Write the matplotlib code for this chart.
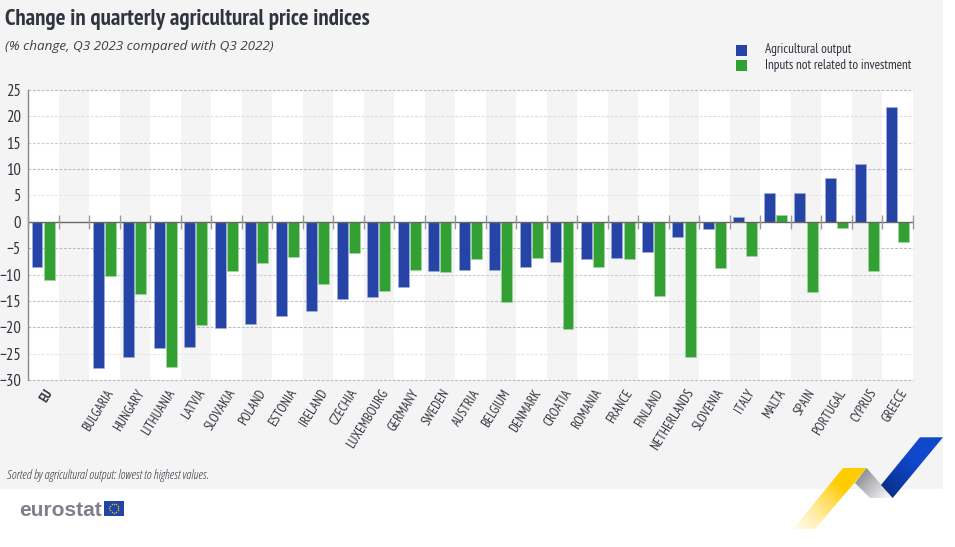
import numpy as np
import matplotlib
matplotlib.use("Agg")
import matplotlib.pyplot as plt
from matplotlib.font_manager import FontProperties as FP
from matplotlib.patches import Polygon, Rectangle

countries = ["EU", "", "BULGARIA", "HUNGARY", "LITHUANIA", "LATVIA", "SLOVAKIA", "POLAND", "ESTONIA",
             "IRELAND", "CZECHIA", "LUXEMBOURG", "GERMANY", "SWEDEN", "AUSTRIA", "BELGIUM", "DENMARK",
             "CROATIA", "ROMANIA", "FRANCE", "FINLAND", "NETHERLANDS", "SLOVENIA", "ITALY", "MALTA",
             "SPAIN", "PORTUGAL", "CYPRUS", "GREECE"]
output_vals = [-8.6, None, -27.8, -25.6, -24.0, -23.7, -20.2, -19.4, -17.9, -17.0, -14.7, -14.3, -12.3, -9.4,
               -9.2, -9.1, -8.6, -7.7, -7.1, -6.9, -5.8, -2.9, -1.3, 1.0, 5.4, 5.4, 8.3, 11.0, 21.8]
input_vals = [-11.0, None, -10.2, -13.6, -27.5, -19.5, -9.3, -7.9, -6.6, -11.8, -6.0, -13.2, -9.2, -9.6,
              -7.1, -15.2, -6.8, -20.3, -8.5, -7.0, -14.1, -25.6, -8.7, -6.5, 1.3, -13.3, -1.1, -9.3, -3.8]
y_ticks = [25, 20, 15, 10, 5, 0, -5, -10, -15, -20, -25, -30]

def narrow(size, weight="normal"):
    return FP(family=["PT Sans Narrow", "Open Sans"], weight=weight, size=size)

TXT = "#30343f"
BLUE, GREEN = "#2644a6", "#33a033"
W, H = 955, 547

fig = plt.figure(figsize=(W / 100, H / 100), dpi=100, facecolor="white")
bg = fig.add_axes([0, 0, 1, 1], zorder=0)
bg.set_xlim(0, W); bg.set_ylim(H, 0); bg.axis("off")
bg.add_patch(Rectangle((0, 0), 943, 489, fc="#f4f4f4", ec="none"))

ax = fig.add_axes([28 / W, (H - 380) / H, 885 / W, 290 / H], zorder=1)
ax.set_xlim(-0.5, len(countries) - 0.5)
ax.set_ylim(-30, 25)
ax.set_facecolor("white")
for s in ("top", "right", "bottom"):
    ax.spines[s].set_visible(False)
ax.spines["left"].set_color("#888888")
ax.spines["left"].set_linewidth(1)
for i in range(1, len(countries), 2):
    ax.axvspan(i - 0.5, i + 0.5, fc="#f4f4f4", ec="none", zorder=0)
grid_cols = {25: "#bbbbbb", 20: "#dddddd", 15: "#cccccc", 10: "#bbbbbb", 5: "#e6e6e6",
             -5: "#bbbbbb", -10: "#cccccc", -15: "#c4c4c4", -20: "#bbbbbb", -25: "#e6e6e6", -30: "#bbbbbb"}
for v, c in grid_cols.items():
    ax.axhline(v, color=c, lw=0.8, ls=(0, (2.5, 1.5)), zorder=1, clip_on=False)

x = np.arange(len(countries))
o = np.array([np.nan if v is None else v for v in output_vals], float)
n = np.array([np.nan if v is None else v for v in input_vals], float)
bw = 0.36
ax.bar(x - 0.205, o, bw, color=BLUE, edgecolor="#9fb0e0", linewidth=0.4, zorder=3, label="Agricultural output")
ax.bar(x + 0.195, n, bw, color=GREEN, edgecolor="#a5d8a5", linewidth=0.4, zorder=3,
       label="Inputs not related to investment")
ax.axhline(0, color="#666666", lw=1, zorder=4)
ax.vlines(np.arange(-0.5, len(countries)), -1.35, 1.35, colors="#999999", lw=1, zorder=4, clip_on=False)

ax.set_yticks(y_ticks)
ax.tick_params(axis="y", length=0, pad=5, labelcolor=TXT)
for t in ax.get_yticklabels():
    t.set_fontproperties(narrow(12))
ax.set_xticks([])
for i, c in enumerate(countries):
    ax.annotate(c, (i, -30), xytext=(1, -7), textcoords="offset pixels", rotation=58,
                rotation_mode="anchor", ha="right", va="top", color=TXT,
                fontproperties=narrow(9.5, "bold" if c == "EU" else "normal"))

bg.text(5, 25, "Change in quarterly agricultural price indices", fontproperties=narrow(16.5, "bold"), color=TXT)
bg.text(5, 50, "(% change, Q3 2023 compared with Q3 2022)", family="Open Sans", style="italic", fontsize=9.7,
        color="#404040")
bg.text(7, 479, "Sorted by agricultural output: lowest to highest values.",
        fontproperties=FP(family="Open Sans", stretch="condensed", style="italic", size=9.2), color=TXT)

h, l = ax.get_legend_handles_labels()
for (yy, col, lab) in ((50, BLUE, l[0]), (65.5, GREEN, l[1])):
    bg.add_patch(Rectangle((735.5, yy - 5.5), 11, 11, fc=col, ec="none"))
    bg.text(764.5, yy, lab, fontproperties=narrow(9.5), color=TXT, va="center")

# eurostat logo
fig.text(19 / W, 1 - 516 / H, "eurostat", fontsize=15, fontweight="bold", color="#7d7f8b", family="Liberation Sans")
bg.add_patch(Rectangle((103.5, 501), 20.5, 14.5, fc="#1f45a8", ec="none", zorder=3))
t = np.linspace(0, 2 * np.pi, 12, endpoint=False)
bg.scatter(113.7 + 4.4 * np.cos(t), 508.2 + 4.4 * np.sin(t), s=1.2, c="#e6c200", linewidths=0, zorder=4)

# decorative ribbon
def ribbon(pts, c0, c1, p0, p1):
    xx, yy = np.meshgrid(np.linspace(780, 950, 200), np.linspace(430, 535, 130))
    d = np.array(p1, float) - np.array(p0, float)
    u = np.clip(((xx - p0[0]) * d[0] + (yy - p0[1]) * d[1]) / (d @ d), 0, 1)
    c0, c1 = np.array(matplotlib.colors.to_rgba(c0)), np.array(matplotlib.colors.to_rgba(c1))
    img = c0 + (c1 - c0) * u[..., None]
    im = bg.imshow(img, extent=(780, 950, 535, 430), aspect="auto", zorder=5, interpolation="bilinear")
    im.set_clip_path(Polygon(pts, closed=True, transform=bg.transData))

ribbon([(843, 468), (867, 468), (815, 529), (793, 529)], "#ffcc00", (1, 0.97, 0.85, 0.6), (845, 490), (800, 532))
ribbon([(866.7, 468), (892.7, 498), (870, 498), (855, 483)], "#8f9098", "#f2f2f2", (860, 475), (885, 498))
ribbon([(920, 437.3), (943, 437.3), (892.7, 498), (881, 485)], "#1048cc", "#08308c", (915, 462), (888, 492))
bg.set_xlim(0, W); bg.set_ylim(H, 0)

fig.savefig("out.png", dpi=100, facecolor=fig.get_facecolor())
